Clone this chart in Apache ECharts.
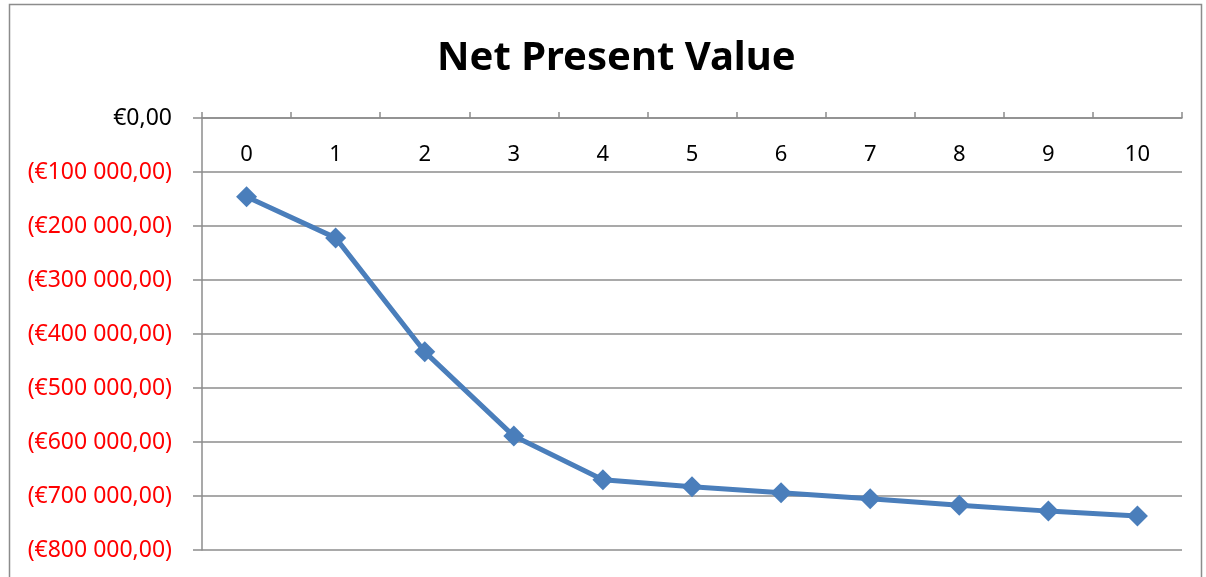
<!DOCTYPE html>
<html><head><meta charset="utf-8">
<script src="https://cdn.jsdelivr.net/npm/echarts@6/dist/echarts.min.js"></script>
<style>html,body{margin:0;padding:0;background:#fff}#c{width:1206px;height:577px}</style>
</head><body><div id="c"></div>
<script>
const title = 'Net Present Value';
const years = ['0','1','2','3','4','5','6','7','8','9','10'];
const npv = [-146000,-222000,-433000,-589000,-670000,-683000,-694000,-705000,-717000,-728000,-737000];
const yMin = -800000, yMax = 0, yStep = 100000;

function fmt(v){
  const a = Math.abs(v);
  const s = String(Math.round(a)).replace(/\B(?=(\d{3})+(?!\d))/g,' ');
  const t = '€' + s + ',00';
  return v < 0 ? '(' + t + ')' : t;
}
const chart = echarts.init(document.getElementById('c'));
chart.setOption({
  animation:false,
  title:{text:title,left:432,top:34,textStyle:{fontFamily:'Noto Sans',fontWeight:'bold',fontSize:40,color:'#000'}},
  graphic:[{type:'rect',shape:{x:9.5,y:4.5,width:1192,height:620},style:{fill:'none',stroke:'#8c8c8c',lineWidth:1.5},silent:true}],
  grid:{left:202,right:24,top:118,bottom:27},
  xAxis:{type:'category',data:years,position:'top',boundaryGap:true,
    axisLine:{show:true,lineStyle:{color:'#8c8c8c',width:1.5}},
    axisTick:{show:true,length:6,lineStyle:{color:'#8c8c8c',width:1.5}},
    axisLabel:{inside:true,margin:26,color:'#000',fontFamily:'Noto Sans',fontSize:22},
    splitLine:{show:false}},
  yAxis:{type:'value',min:yMin,max:yMax,interval:yStep,
    axisLine:{show:true,lineStyle:{color:'#8c8c8c',width:1.5}},
    axisTick:{show:true,length:9,lineStyle:{color:'#8c8c8c',width:1.5}},
    axisLabel:{formatter:fmt,margin:30,fontFamily:'Noto Sans',fontSize:23,color:function(v){return Number(v)<0?'#ff0000':'#000';}},
    splitLine:{show:true,lineStyle:{color:'#8c8c8c',width:1.5}}},
  series:[{type:'line',data:npv,symbol:'diamond',symbolSize:21,
    lineStyle:{color:'#4a7ebb',width:5},itemStyle:{color:'#4a7ebb'}}]
});
</script></body></html>
